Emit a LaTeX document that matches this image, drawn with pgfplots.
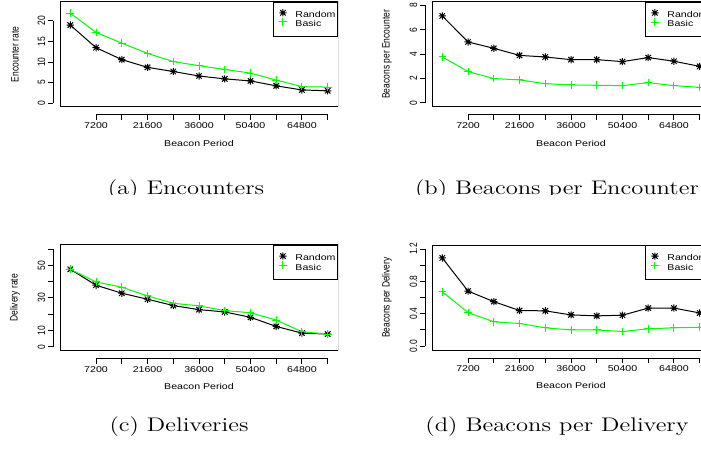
\documentclass[border=0pt]{standalone}
\usepackage{fontspec}
\usepackage{graphicx}
\usepackage{pgfplots}
\pgfplotsset{compat=1.18}
\newfontfamily\plotfont{Liberation Sans}
\newcommand{\pf}{\plotfont\fontsize{5.3}{6}\selectfont}
% the reference raster is squashed vertically
\newcommand{\sq}[1]{\scalebox{1}[0.8]{#1}}
\newcommand{\sqr}[1]{\scalebox{0.8}[1]{#1}}

% R pch=8: a + and an x on top of each other
\pgfdeclareplotmark{rstar}{%
  \pgfpathmoveto{\pgfqpoint{-\pgfplotmarksize}{0pt}}%
  \pgfpathlineto{\pgfqpoint{\pgfplotmarksize}{0pt}}%
  \pgfpathmoveto{\pgfqpoint{0pt}{-\pgfplotmarksize}}%
  \pgfpathlineto{\pgfqpoint{0pt}{\pgfplotmarksize}}%
  \pgfpathmoveto{\pgfqpoint{-.75\pgfplotmarksize}{-.75\pgfplotmarksize}}%
  \pgfpathlineto{\pgfqpoint{.75\pgfplotmarksize}{.75\pgfplotmarksize}}%
  \pgfpathmoveto{\pgfqpoint{-.75\pgfplotmarksize}{.75\pgfplotmarksize}}%
  \pgfpathlineto{\pgfqpoint{.75\pgfplotmarksize}{-.75\pgfplotmarksize}}%
  \pgfusepathqstroke}

\pgfplotsset{
  rplot/.style={
    scale only axis, width=139pt, height=52.65pt,
    xmin=-2880, xmax=74880, scaled x ticks=false, scaled y ticks=false,
    axis lines=left, axis line style={-, line width=0.5pt, black},
    axis x line shift=4pt, axis y line shift=3.4pt,
    x axis line style={shorten <=18.02pt, shorten >=5.15pt},
    tick align=outside, major tick length=2.5pt,
    tick style={black, line width=0.5pt},
    xtick={7200,14400,...,72000},
    xticklabels={\sq{7200},,\sq{21600},,\sq{36000},,\sq{50400},,\sq{64800},},
    /pgf/number format/assume math mode=true,
    ticklabel style={font=\pf},
    xticklabel style={inner sep=1pt},
    yticklabel style={rotate=90, anchor=south, inner sep=1.3pt},
    label style={font=\pf},
    xlabel={\sq{Beacon Period}},
    xlabel style={at={(axis description cs:0.5,-0.342)}, anchor=center},
    ylabel style={at={(axis description cs:-0.162,0.5)}, anchor=center},
    legend style={at={(1,1)}, anchor=north east, draw=black, line width=0.5pt,
      font=\pf, inner xsep=0.5pt, inner ysep=3.5pt, row sep=-1pt,
      nodes={inner sep=0.5pt, text height=3.2pt, text depth=0.8pt, anchor=west}},
    legend cell align=left,
    legend image code/.code={\path (0pt,0pt) (9.5pt,0pt); \draw[##1] plot coordinates {(4pt,1.2pt)};},
  },
  rnd/.style={black, line width=0.5pt, mark=rstar, mark size=1.8pt, mark options={solid}},
  bas/.style={color=green, line width=0.5pt, mark=+, mark size=1.9pt},
}

\begin{document}
\begin{tikzpicture}
\useasboundingbox (0,0) rectangle (350.5pt,225pt);
\clip (0,0) rectangle (350.5pt,225pt);

% (a)
\begin{axis}[rplot, at={(30pt,171.5pt)}, anchor=south west,
  ymin=-0.95, ymax=24.7, ytick={0,5,10,15,20},
  yticklabels={\sqr{0},\sqr{5},\sqr{10},\sqr{15},\sqr{20}},
  y axis line style={shorten <=1.95pt, shorten >=9.65pt},
  ylabel={\sqr{Encounter rate}}]
\draw[line width=0.5pt] (rel axis cs:0,0) rectangle (rel axis cs:1,1);
\addplot[rnd, forget plot] coordinates {(0,19.0)(7200,13.5)(14400,10.6)(21600,8.7)(28800,7.7)(36000,6.6)(43200,5.9)(50400,5.4)(57600,4.2)(64800,3.2)(72000,3.0)};
\addplot[bas, forget plot] coordinates {(0,21.9)(7200,17.2)(14400,14.6)(21600,12.1)(28800,10.1)(36000,9.1)(43200,8.2)(50400,7.3)(57600,5.6)(64800,4.0)(72000,3.9)};
\addlegendimage{rnd, only marks}\addlegendentry{\sq{Random}\hspace{1.5pt}}
\addlegendimage{bas, only marks}\addlegendentry{\sq{Basic}}
\end{axis}

% (b)
\begin{axis}[rplot, at={(216pt,171.5pt)}, anchor=south west,
  ymin=-0.33, ymax=8.3, ytick={0,2,4,6,8},
  yticklabels={\sqr{0},\sqr{2},\sqr{4},\sqr{6},\sqr{8}},
  y axis line style={shorten <=2.01pt, shorten >=1.83pt},
  ylabel={\sqr{Beacons per Encounter}}]
\draw[line width=0.5pt] (rel axis cs:0,0) rectangle (rel axis cs:1,1);
\addplot[rnd, forget plot] coordinates {(0,7.13)(7200,5.0)(14400,4.48)(21600,3.9)(28800,3.77)(36000,3.55)(43200,3.55)(50400,3.39)(57600,3.72)(64800,3.42)(72000,3.0)};
\addplot[bas, forget plot] coordinates {(0,3.77)(7200,2.57)(14400,2.0)(21600,1.89)(28800,1.58)(36000,1.48)(43200,1.45)(50400,1.42)(57600,1.67)(64800,1.42)(72000,1.28)};
\addlegendimage{rnd, only marks}\addlegendentry{\sq{Random}\hspace{1.5pt}}
\addlegendimage{bas, only marks}\addlegendentry{\sq{Basic}}
\end{axis}

% (c)
\begin{axis}[rplot, at={(30pt,49.65pt)}, anchor=south west, height=52.85pt,
  ymin=-2.4, ymax=62.5, ytick={0,10,...,60},
  yticklabels={\sqr{0},\sqr{10},,\sqr{30},,\sqr{50},},
  y axis line style={shorten <=1.95pt, shorten >=2.04pt},
  ylabel={\sqr{Delivery rate}}]
\draw[line width=0.5pt] (rel axis cs:0,0) rectangle (rel axis cs:1,1);
\addplot[rnd, forget plot] coordinates {(0,47.6)(7200,37.8)(14400,32.9)(21600,29.2)(28800,25.3)(36000,22.8)(43200,21.4)(50400,18.1)(57600,12.5)(64800,8.4)(72000,7.8)};
\addplot[bas, forget plot] coordinates {(0,47.6)(7200,39.8)(14400,36.6)(21600,31.2)(28800,26.7)(36000,25.1)(43200,22.2)(50400,20.9)(57600,16.4)(64800,9.2)(72000,7.8)};
\addlegendimage{rnd, only marks}\addlegendentry{\sq{Random}\hspace{1.5pt}}
\addlegendimage{bas, only marks}\addlegendentry{\sq{Basic}}
\end{axis}

% (d)
\begin{axis}[rplot, at={(216pt,50pt)}, anchor=south west, height=52.5pt,
  ymin=-0.048, ymax=1.25, ytick={0,0.2,...,1.2},
  yticklabels={\sqr{0.0},,\sqr{0.4},,\sqr{0.8},,\sqr{1.2}},
  y axis line style={shorten <=1.94pt, shorten >=2.02pt},
  ylabel={\sqr{Beacons per Delivery}}]
\draw[line width=0.5pt] (rel axis cs:0,0) rectangle (rel axis cs:1,1);
\addplot[rnd, forget plot] coordinates {(0,1.09)(7200,0.68)(14400,0.55)(21600,0.44)(28800,0.436)(36000,0.386)(43200,0.374)(50400,0.382)(57600,0.47)(64800,0.47)(72000,0.41)};
\addplot[bas, forget plot] coordinates {(0,0.67)(7200,0.415)(14400,0.30)(21600,0.28)(28800,0.226)(36000,0.20)(43200,0.20)(50400,0.18)(57600,0.214)(64800,0.226)(72000,0.234)};
\addlegendimage{rnd, only marks}\addlegendentry{\sq{Random}\hspace{1.5pt}}
\addlegendimage{bas, only marks}\addlegendentry{\sq{Basic}}
\end{axis}

% captions; the top row is cut at its baseline in the reference
\begin{scope}
\clip (0,127.5pt) rectangle (350.5pt,160pt);
\node[anchor=base, inner sep=0pt, font=\fontsize{12.3}{15}\selectfont] at (93pt,127.5pt) {\sq{(a) Encounters}};
\node[anchor=base, inner sep=0pt, font=\fontsize{12.3}{15}\selectfont] at (278.5pt,127.5pt) {\sq{(b) Beacons per Encounter}};
\end{scope}
\node[anchor=base, inner sep=0pt, font=\fontsize{12.3}{15}\selectfont] at (89.5pt,9.5pt) {\sq{(c) Deliveries}};
\node[anchor=base, inner sep=0pt, font=\fontsize{12.3}{15}\selectfont] at (278.5pt,9.5pt) {\sq{(d) Beacons per Delivery}};
\end{tikzpicture}
\end{document}
